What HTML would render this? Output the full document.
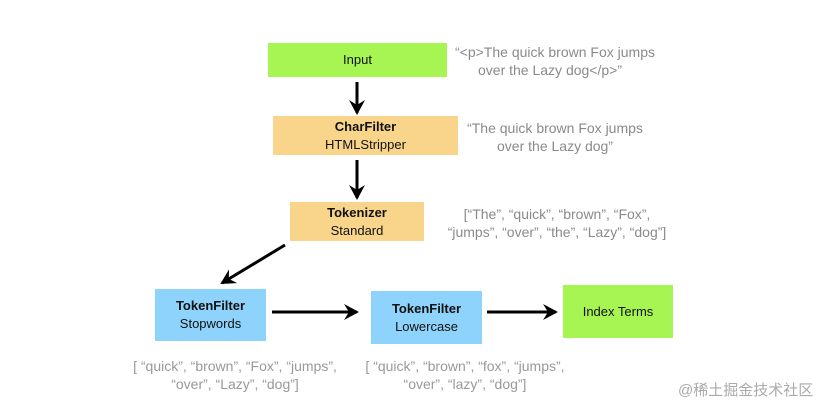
<!DOCTYPE html>
<html><head><meta charset="utf-8"><style>
body{margin:0;width:840px;height:408px;background:#fff;position:relative;overflow:hidden;font-family:"Liberation Sans","Noto Sans CJK SC",sans-serif}
.b{position:absolute;display:flex;flex-direction:column;align-items:center;justify-content:center;font-size:13px;color:#111;line-height:18px;text-align:center}
.b b{font-weight:bold}
.g{background:#a6f553}.o{background:#f8d58a}.u{background:#8ed3fb}
.t{position:absolute;color:#8a8a8a;font-size:14px;line-height:18px;text-align:center;white-space:nowrap}
svg{position:absolute;left:0;top:0}
</style></head><body>
<div class="b g" style="left:268px;top:43px;width:179px;height:34px">Input</div>
<div class="b o" style="left:273px;top:116px;width:185px;height:39px"><b>CharFilter</b>HTMLStripper</div>
<div class="b o" style="left:290px;top:202px;width:134px;height:39px"><b>Tokenizer</b>Standard</div>
<div class="b u" style="left:155px;top:289px;width:111px;height:52px"><b>TokenFilter</b>Stopwords</div>
<div class="b u" style="left:371px;top:291px;width:111px;height:53px"><b>TokenFilter</b>Lowercase</div>
<div class="b g" style="left:563px;top:285px;width:110px;height:53px">Index Terms</div>
<div class="t" style="left:455px;top:43px;width:190px">“&lt;p&gt;The quick brown Fox jumps<br>over the Lazy dog&lt;/p&gt;”</div>
<div class="t" style="left:460px;top:119px;width:190px">“The quick brown Fox jumps<br>over the Lazy dog”</div>
<div class="t" style="left:427px;top:205px;width:260px">[“The”, “quick”, “brown”, “Fox”,<br>“jumps”, “over”, “the”, “Lazy”, “dog”]</div>
<div class="t" style="left:115px;top:357px;width:240px;color:#999">[ “quick”, “brown”, “Fox”, “jumps”,<br>“over”, “Lazy”, “dog”]</div>
<div class="t" style="left:345px;top:357px;width:240px;color:#999">[ “quick”, “brown”, “fox”, “jumps”,<br>“over”, “lazy”, “dog”]</div>
<div class="t" style="left:678px;top:382px;font-size:15px;color:#aaa">@稀土掘金技术社区</div>
<svg width="840" height="408"><defs><marker id="a" markerWidth="16" markerHeight="16" refX="13" refY="8" orient="auto" markerUnits="userSpaceOnUse"><path d="M0,0 L15,8 L0,16 L5,8Z" fill="#000"/></marker></defs>
<g stroke="#000" stroke-width="3" fill="none" marker-end="url(#a)">
<line x1="357" y1="82" x2="357" y2="113"/>
<line x1="357" y1="160" x2="357" y2="198"/>
<line x1="285" y1="245" x2="222" y2="283"/>
<line x1="272" y1="312" x2="357" y2="312"/>
<line x1="487" y1="312" x2="556" y2="312"/>
</g></svg>
</body></html>
